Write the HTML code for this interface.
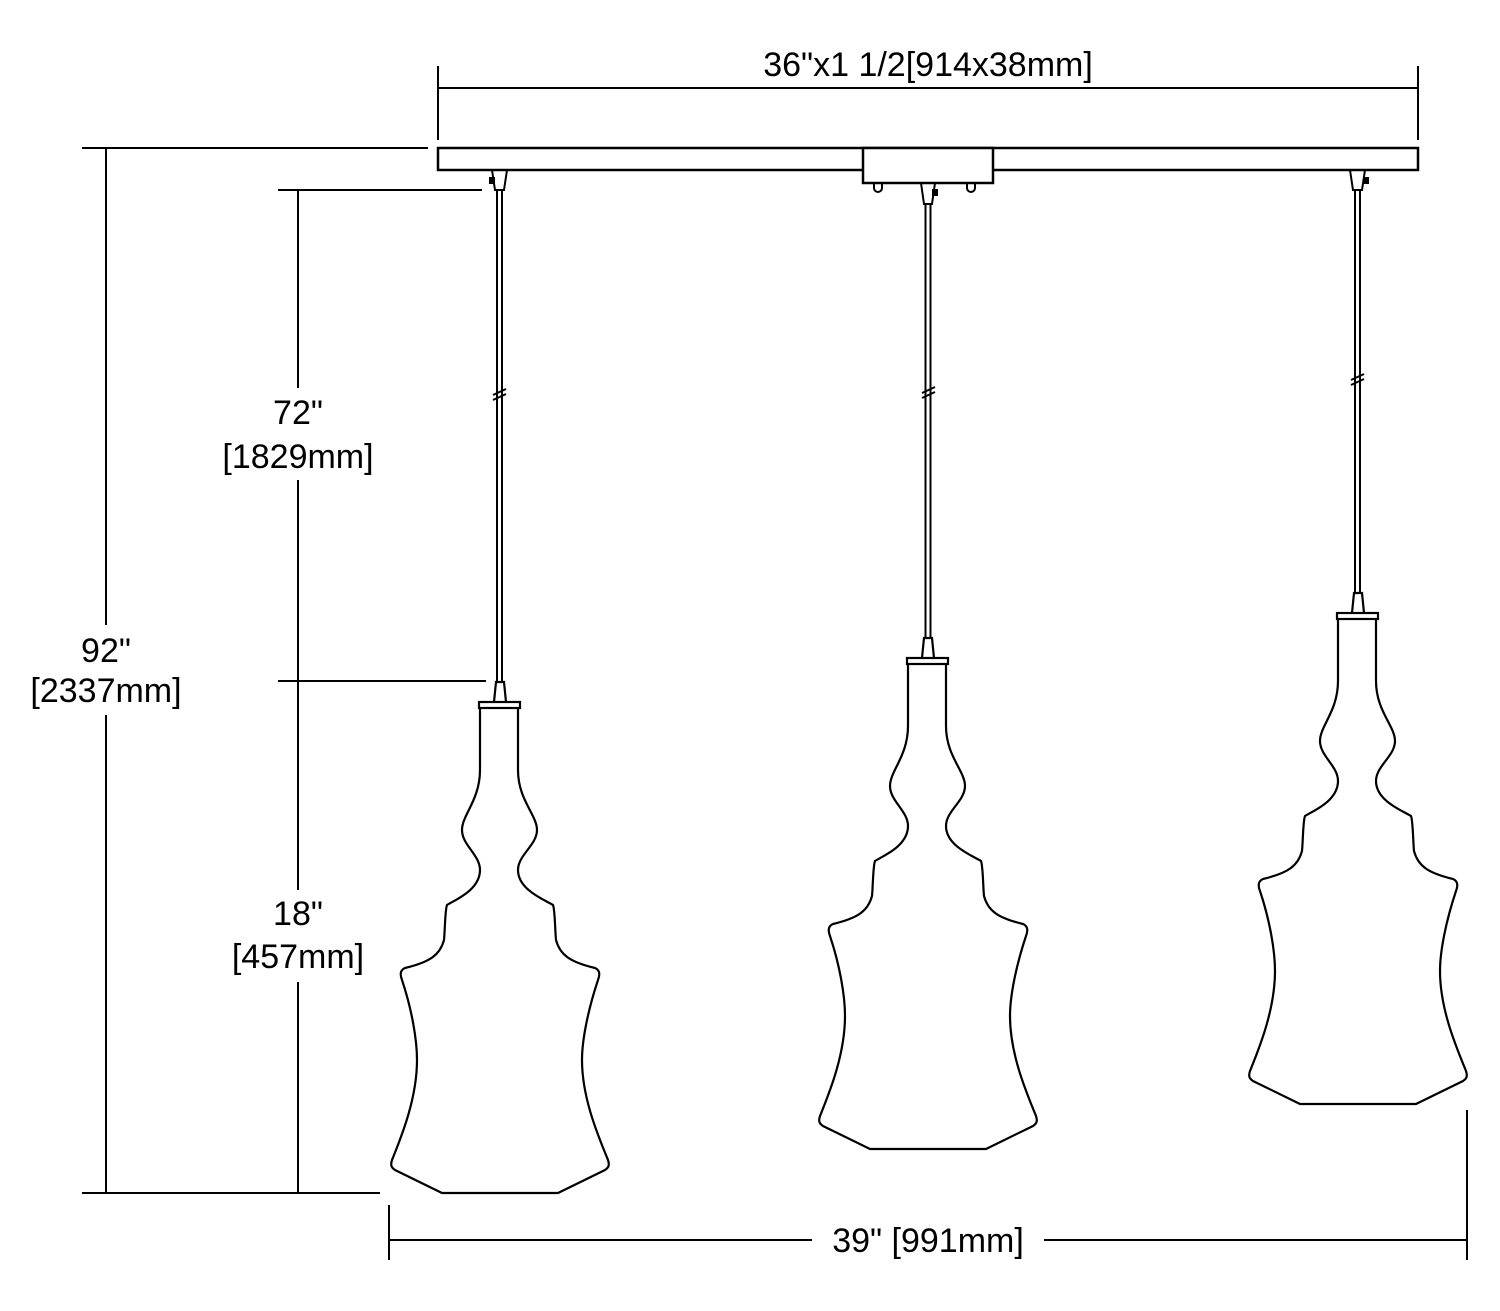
<!DOCTYPE html>
<html><head><meta charset="utf-8"><style>
html,body{margin:0;padding:0;background:#fff;}
svg{display:block;}
text{font-family:"Liberation Sans",Arial,sans-serif;font-size:34px;fill:#000;}
</style></head><body>
<svg width="1500" height="1311" viewBox="0 0 1500 1311" xmlns="http://www.w3.org/2000/svg">
<defs>
<g id="pend" fill="none" stroke="#000" stroke-width="2.2">
<path d="M480,708 L480,770 C480,800 462,815 462,830 C462,845 480,855 480,870 C480,890 455,900 447,905 C445,910 445,930 444,940 C440,955 430,962 405,968 C400,970 400,975 402,980 C412,1010 417,1040 417,1060 C417,1100 400,1140 392,1160 C390,1166 392,1168 395,1170 L442,1193 L558,1193 L605,1170 C608,1168 610,1166 608,1160 C600,1140 582,1100 582,1060 C582,1040 588,1010 598,980 C600,975 600,970 595,968 C570,962 560,955 556,940 C555,930 555,910 553,905 C545,900 518,890 518,870 C518,855 537,845 537,830 C537,815 518,800 518,770 L518,708"/>
<rect x="479" y="702" width="41" height="6" fill="#fff"/>
<path d="M494,702 L496,682 L504,682 L506,702"/>
</g>
</defs>
<g stroke="#000" stroke-width="2" fill="none">
<line x1="438" y1="66" x2="438" y2="140"/>
<line x1="1418" y1="66" x2="1418" y2="140"/>
<line x1="438" y1="88" x2="1418" y2="88"/>
<rect x="438" y="148" width="980" height="22" stroke-width="2.5"/>
<rect x="863" y="148" width="130" height="35" fill="#fff" stroke-width="2.5"/>
<path d="M874,184 L874,188 A4,4 0 0 0 882,188 L882,184"/>
<path d="M967,184 L967,188 A4,4 0 0 0 975,188 L975,184"/>
<path d="M492,170 L495,190 L504,190 L507,170"/>
<path d="M921,183 L924,204 L932,204 L935,183"/>
<path d="M1350,170 L1353,190 L1362,190 L1365,170"/>
<line x1="497" y1="190" x2="497" y2="682"/><line x1="502" y1="190" x2="502" y2="682"/>
<line x1="925.5" y1="204" x2="925.5" y2="638"/><line x1="930.5" y1="204" x2="930.5" y2="638"/>
<line x1="1355" y1="190" x2="1355" y2="593"/><line x1="1360" y1="190" x2="1360" y2="593"/>
<path d="M493,395 L506,389 M493,400 L506,394"/>
<path d="M922,393 L935,387 M922,398 L935,392"/>
<path d="M1351,380 L1364,374 M1351,385 L1364,379"/>
<line x1="82" y1="148" x2="428" y2="148"/>
<line x1="82" y1="1193" x2="380" y2="1193"/>
<line x1="106" y1="148" x2="106" y2="1193"/>
<line x1="278" y1="190" x2="482" y2="190"/>
<line x1="278" y1="681" x2="486" y2="681"/>
<line x1="298" y1="190" x2="298" y2="1193"/>
<line x1="389" y1="1205" x2="389" y2="1260"/>
<line x1="1467" y1="1110" x2="1467" y2="1260"/>
<line x1="389" y1="1240" x2="1467" y2="1240"/>
</g>
<g fill="#000">
<rect x="489" y="177" width="6" height="7"/>
<rect x="932" y="189" width="6" height="7"/>
<rect x="1363" y="177" width="6" height="7"/>
</g>
<use href="#pend"/>
<use href="#pend" transform="translate(428,-44)"/>
<use href="#pend" transform="translate(858,-89)"/>
<rect x="20" y="625" width="172" height="90" fill="#fff"/>
<rect x="212" y="388" width="172" height="92" fill="#fff"/>
<rect x="222" y="890" width="152" height="92" fill="#fff"/>
<rect x="812" y="1220" width="232" height="40" fill="#fff"/>
<text x="928" y="76" text-anchor="middle">36"x1 1/2[914x38mm]</text>
<text x="106" y="662" text-anchor="middle">92"</text>
<text x="106" y="702" text-anchor="middle">[2337mm]</text>
<text x="298" y="424" text-anchor="middle">72"</text>
<text x="298" y="468" text-anchor="middle">[1829mm]</text>
<text x="298" y="925" text-anchor="middle">18"</text>
<text x="298" y="968" text-anchor="middle">[457mm]</text>
<text x="928" y="1252" text-anchor="middle">39" [991mm]</text>
</svg>
</body></html>
